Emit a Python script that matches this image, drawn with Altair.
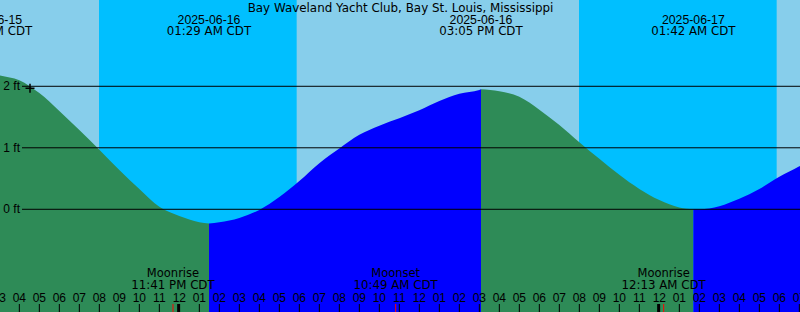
import altair as alt
import pandas as pd

TITLE = "Bay Waveland Yacht Club, Bay St. Louis, Mississippi"
REF = pd.Timestamp("2025-06-16 00:00")
VIEW_START = "2025-06-15 15:02"
VIEW_END = "2025-06-17 07:02"
FT_MIN, FT_MAX = -1.670, 3.403

# Tide events (high / low)
EVENT_TIMES = ["2025-06-15 14:34", "2025-06-16 01:29", "2025-06-16 15:05", "2025-06-17 01:42"]
EVENT_FT = [2.22, -0.23, 1.95, 0.00]
EVENT_DATE = ["2025-06-15", "2025-06-16", "2025-06-16", "2025-06-17"]
EVENT_CLOCK = ["02:34 PM CDT", "01:29 AM CDT", "03:05 PM CDT", "01:42 AM CDT"]

# Hourly tide readings (ft) between the events
CURVE_TIMES = [
    "2025-06-15 15:00", "2025-06-15 16:00", "2025-06-15 17:00", "2025-06-15 18:00",
    "2025-06-15 19:00", "2025-06-15 20:00", "2025-06-15 21:00", "2025-06-15 22:00",
    "2025-06-15 23:00", "2025-06-16 00:00", "2025-06-16 01:00", "2025-06-16 02:00",
    "2025-06-16 03:00", "2025-06-16 04:00", "2025-06-16 05:00", "2025-06-16 06:00",
    "2025-06-16 07:00", "2025-06-16 08:00", "2025-06-16 09:00", "2025-06-16 10:00",
    "2025-06-16 11:00", "2025-06-16 12:00", "2025-06-16 13:00", "2025-06-16 14:00",
    "2025-06-16 15:00", "2025-06-16 16:00", "2025-06-16 17:00", "2025-06-16 18:00",
    "2025-06-16 19:00", "2025-06-16 20:00", "2025-06-16 21:00", "2025-06-16 22:00",
    "2025-06-16 23:00", "2025-06-17 00:00", "2025-06-17 01:00", "2025-06-17 02:00",
    "2025-06-17 03:00", "2025-06-17 04:00", "2025-06-17 05:00", "2025-06-17 06:00",
    "2025-06-17 07:00", "2025-06-17 07:30",
]
CURVE_FT = [
    2.18, 2.10, 1.89, 1.60,
    1.29, 0.97, 0.64, 0.33,
    0.04, -0.11, -0.21, -0.21,
    -0.14, -0.01, 0.20, 0.46,
    0.75, 0.99, 1.21, 1.36,
    1.48, 1.61, 1.76, 1.88,
    1.94, 1.92, 1.83, 1.62,
    1.37, 1.09, 0.82, 0.56,
    0.33, 0.15, 0.03, 0.00,
    0.05, 0.17, 0.33, 0.53,
    0.70, 0.79,
]

NIGHT_START = ["2025-06-15 19:59", "2025-06-16 19:59"]
NIGHT_END = ["2025-06-16 05:52", "2025-06-17 05:52"]

MOON_TIMES = ["2025-06-15 23:41", "2025-06-16 10:49", "2025-06-17 00:13"]
MOON_KIND = ["Moonrise", "Moonset", "Moonrise"]
MOON_CLOCK = ["11:41 PM CDT", "10:49 AM CDT", "12:13 AM CDT"]

MIDNIGHTS = ["2025-06-16 00:00", "2025-06-17 00:00"]

HOUR_START = "2025-06-15 15:00"
HOUR_LABELS = ["03", "04", "05", "06", "07", "08", "09", "10", "11", "12",
               "01", "02", "03", "04", "05", "06", "07", "08", "09", "10", "11",
               "12", "01", "02", "03", "04", "05", "06", "07", "08", "09", "10",
               "11", "12", "01", "02", "03", "04", "05", "06", "07"]

LEVELS_FT = [0, 1, 2]
LEVEL_LABELS = ["0 ft", "1 ft", "2 ft"]

NOW_TIME = "2025-06-15 16:32"
NOW_FT = 1.967


def hrs(t):
    return (pd.Timestamp(t) - REF).total_seconds() / 3600.0


# build the curve table with rising / falling segments
ev_h = [hrs(t) for t in EVENT_TIMES]
pts = sorted([(hrs(t), v) for t, v in zip(CURVE_TIMES, CURVE_FT)] + list(zip(ev_h, EVENT_FT)))
rows = []
bounds = ev_h + [1e9]
for i in range(len(ev_h)):
    lo, hi = bounds[i], bounds[i + 1]
    direction = "falling" if i % 2 == 0 else "rising"
    for h, v in pts:
        if lo <= h <= hi:
            rows.append({"h": h, "ft": v, "seg": i, "dir": direction})
curve = pd.DataFrame(rows)

XS = alt.Scale(domain=[hrs(VIEW_START), hrs(VIEW_END)], nice=False, zero=False)
YS = alt.Scale(domain=[FT_MIN, FT_MAX], nice=False, zero=False)
SANS = "Liberation Sans"
WIDE = "DejaVu Sans"


def txt(font, size):
    return dict(align="center", baseline="middle", font=font, fontSize=size, color="black")


night = pd.DataFrame({"h": [hrs(t) for t in NIGHT_START], "h2": [hrs(t) for t in NIGHT_END]})
night_layer = alt.Chart(night).mark_rect(color="#00BFFF", clip=True).encode(
    x=alt.X("h:Q", scale=XS, axis=None), x2="h2:Q",
    y=alt.value(0), y2=alt.value(312))

area = alt.Chart(curve).mark_area(interpolate="monotone", clip=True).encode(
    x=alt.X("h:Q", scale=XS, axis=None),
    y=alt.Y("ft:Q", scale=YS, axis=None, stack=None),
    y2=alt.value(312),
    color=alt.Color("dir:N", scale=alt.Scale(domain=["falling", "rising"],
                                             range=["#2E8B57", "#0000FF"]), legend=None),
    detail="seg:N")

levels = pd.DataFrame({"ft": LEVELS_FT, "label": LEVEL_LABELS})
level_rules = alt.Chart(levels).mark_rule(color="black", strokeWidth=1).encode(
    y=alt.Y("ft:Q", scale=YS, axis=None), x=alt.value(22), x2=alt.value(800))
level_text = alt.Chart(levels).mark_text(
    align="right", baseline="middle", font=SANS, fontSize=12, color="black").encode(
    y=alt.Y("ft:Q", scale=YS, axis=None), x=alt.value(20), text="label:N")

now = pd.DataFrame({"h": [hrs(NOW_TIME)], "ft": [NOW_FT]})
now_mark = alt.Chart(now).mark_point(
    shape="M-1,0L1,0M0,-1L0,1", size=81, filled=False, stroke="black",
    strokeWidth=1.5, opacity=1).encode(
    x=alt.X("h:Q", scale=XS, axis=None), y=alt.Y("ft:Q", scale=YS, axis=None))

events = pd.DataFrame({"h": ev_h, "d": EVENT_DATE, "c": EVENT_CLOCK})
ev_date = alt.Chart(events).mark_text(**txt(SANS, 12.3)).encode(
    x=alt.X("h:Q", scale=XS, axis=None), y=alt.value(19.5), text="d:N")
ev_clock = alt.Chart(events).mark_text(**txt(WIDE, 11.8)).encode(
    x=alt.X("h:Q", scale=XS, axis=None), y=alt.value(31), text="c:N")

title = alt.Chart(pd.DataFrame({"t": [TITLE]})).mark_text(**txt(WIDE, 11.9)).encode(
    x=alt.value(400.5), y=alt.value(7.5), text="t:N")

moon = pd.DataFrame({"h": [hrs(t) for t in MOON_TIMES], "k": MOON_KIND, "c": MOON_CLOCK})
moon_kind = alt.Chart(moon).mark_text(**txt(WIDE, 11.5)).encode(
    x=alt.X("h:Q", scale=XS, axis=None), y=alt.value(273.5), text="k:N")
moon_clock = alt.Chart(moon).mark_text(**txt(WIDE, 11.8)).encode(
    x=alt.X("h:Q", scale=XS, axis=None), y=alt.value(285), text="c:N")
moon_ticks = alt.Chart(moon).mark_rule(color="#FF0000", strokeWidth=1).encode(
    x=alt.X("h:Q", scale=XS, axis=None), y=alt.value(304), y2=alt.value(312))

h0 = hrs(HOUR_START)
hours = pd.DataFrame({"h": [h0 + i for i in range(len(HOUR_LABELS))], "lab": HOUR_LABELS})
hour_text = alt.Chart(hours).mark_text(**txt(SANS, 12)).encode(
    x=alt.X("h:Q", scale=XS, axis=None), y=alt.value(297.5), text="lab:N")
hour_ticks = alt.Chart(hours).mark_rule(color="black", strokeWidth=1).encode(
    x=alt.X("h:Q", scale=XS, axis=None), y=alt.value(304), y2=alt.value(312))

mid = pd.DataFrame({"h": [hrs(t) for t in MIDNIGHTS]})
mid_ticks = alt.Chart(mid).mark_rule(color="black", strokeWidth=3, xOffset=-0.7).encode(
    x=alt.X("h:Q", scale=XS, axis=None), y=alt.value(304), y2=alt.value(312))

chart = alt.layer(
    night_layer, area, level_rules, level_text, now_mark, ev_date, ev_clock, title,
    moon_kind, moon_clock, hour_text, hour_ticks, mid_ticks, moon_ticks,
).properties(
    width=800, height=312, padding=0, autosize="none", background="#87CEEB"
).configure_view(strokeWidth=0)

chart.save("out.html", embed_options={"renderer": "svg", "actions": False})
